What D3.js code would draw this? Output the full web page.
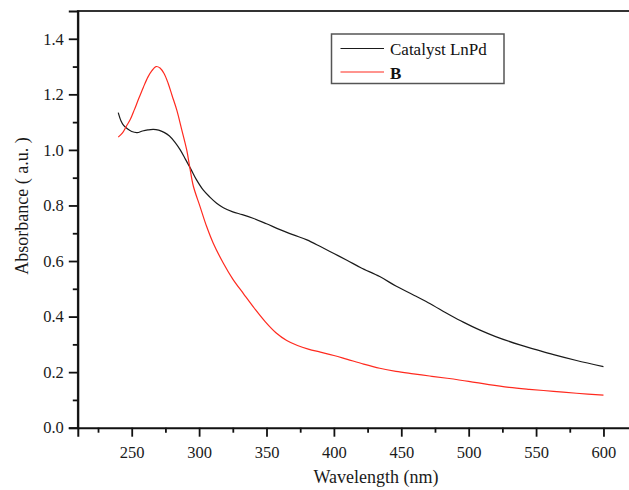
<!DOCTYPE html>
<html>
<head>
<meta charset="utf-8">
<script src="https://cdn.jsdelivr.net/npm/d3@7"></script>
<style>
  body { margin: 0; background: #fff; }
  svg { display: block; font-family: "Liberation Serif", "Times New Roman", serif; }
</style>
</head>
<body>
<div id="chart"></div>
<script>
// ---- data ----
const catalystWl = [240, 242, 244, 247, 250, 254, 258, 262, 266, 270, 274, 278, 282, 286, 290, 294, 298, 303, 308, 313, 318, 325, 332, 340, 350, 360, 370, 380, 390, 400, 410, 420, 434, 446, 459, 470, 486, 496, 508, 520, 538, 550, 563, 580, 600];
const catalystAbs = [1.134, 1.105, 1.088, 1.075, 1.066, 1.062, 1.068, 1.072, 1.074, 1.071, 1.063, 1.050, 1.028, 1.000, 0.965, 0.930, 0.893, 0.856, 0.830, 0.808, 0.792, 0.777, 0.767, 0.754, 0.734, 0.713, 0.694, 0.676, 0.652, 0.627, 0.602, 0.576, 0.544, 0.510, 0.478, 0.450, 0.406, 0.380, 0.352, 0.328, 0.298, 0.281, 0.263, 0.242, 0.220];

const bWl = [240, 243, 246, 249, 252, 255, 258.6, 262, 265, 268, 271, 274, 277, 280, 283.4, 287, 290.8, 293, 295.7, 300.7, 305.6, 310.5, 318, 325, 333, 341, 349, 357, 365, 373, 381, 390, 400, 410, 422, 434, 446, 459, 471, 484, 500, 515, 530, 545, 563, 580, 600];
const bAbs = [1.046, 1.060, 1.085, 1.110, 1.145, 1.182, 1.225, 1.262, 1.285, 1.300, 1.295, 1.275, 1.240, 1.195, 1.144, 1.075, 1.000, 0.940, 0.870, 0.796, 0.724, 0.664, 0.592, 0.535, 0.482, 0.430, 0.382, 0.342, 0.314, 0.296, 0.283, 0.272, 0.260, 0.246, 0.229, 0.214, 0.203, 0.194, 0.186, 0.178, 0.167, 0.155, 0.145, 0.138, 0.131, 0.124, 0.117];

const xMajor = [250, 300, 350, 400, 450, 500, 550, 600];
const xMinor = [225, 275, 325, 375, 425, 475, 525, 575];
const yMajor = [0.0, 0.2, 0.4, 0.6, 0.8, 1.0, 1.2, 1.4];
const yMinor = [0.1, 0.3, 0.5, 0.7, 0.9, 1.1, 1.3];

const series = [
  {name: "Catalyst LnPd", wl: catalystWl, abs: catalystAbs, color: "#1a1a1a", bold: false},
  {name: "B", wl: bWl, abs: bAbs, color: "#ff2a1f", bold: true}
];

// ---- layout ----
const width = 629, height = 490;
const svg = d3.select("#chart").append("svg")
  .attr("width", width).attr("height", height);

const x = d3.scaleLinear().domain([210, 630]).range([77.8, 643.9]);
const y = d3.scaleLinear().domain([0, 1.5]).range([427.7, 11]);

// frame (top + right run past the window edge)
svg.append("path")
  .attr("d", `M${x(210)},${y(0)}V${y(1.5)}H${x(630)}V${y(0)}`)
  .attr("fill", "none").attr("stroke", "#333").attr("stroke-width", 1.8);

// axes
const xAxis = svg.append("g")
  .attr("transform", `translate(0,${y(0)})`)
  .call(d3.axisBottom(x).tickValues(xMajor).tickFormat(d3.format("d")).tickSize(9).tickPadding(6));
svg.append("g")
  .attr("transform", `translate(0,${y(0)})`)
  .call(d3.axisBottom(x).tickValues(xMinor).tickFormat("").tickSize(5))
  .call(g => g.select(".domain").remove());

const yAxis = svg.append("g")
  .attr("transform", `translate(${x(210)},0)`)
  .call(d3.axisLeft(y).tickValues(yMajor).tickFormat(d3.format(".1f")).tickSize(9).tickPadding(5));
svg.append("g")
  .attr("transform", `translate(${x(210)},0)`)
  .call(d3.axisLeft(y).tickValues(yMinor).tickFormat("").tickSize(5))
  .call(g => g.select(".domain").remove());

svg.selectAll(".domain").attr("stroke", "#111").attr("stroke-width", 2);
svg.selectAll(".tick line").attr("stroke", "#111").attr("stroke-width", 1.8);
svg.selectAll(".tick text")
  .attr("fill", "#1a1a1a")
  .style("font-family", "'Liberation Serif', serif")
  .style("font-size", "16.5px");
xAxis.selectAll(".tick text").attr("dy", "0.95em");

// axis titles
svg.append("text")
  .attr("x", 376).attr("y", 483)
  .attr("text-anchor", "middle")
  .style("font-size", "18px").attr("fill", "#1a1a1a")
  .text("Wavelength (nm)");

svg.append("text")
  .attr("transform", "translate(28,206) rotate(-90)")
  .attr("text-anchor", "middle")
  .style("font-size", "18px").attr("fill", "#1a1a1a")
  .text("Absorbance ( a.u. )");

// curves
const line = d3.line()
  .x(d => x(d[0])).y(d => y(d[1]))
  .curve(d3.curveCatmullRom.alpha(0.5));

series.forEach(s => {
  svg.append("path")
    .datum(s.wl.map((w, i) => [w, s.abs[i]]))
    .attr("fill", "none")
    .attr("stroke", s.color)
    .attr("stroke-width", 1.2)
    .attr("d", line);
});

// legend
const lg = svg.append("g");
lg.append("rect")
  .attr("x", 331.5).attr("y", 34).attr("width", 172.5).attr("height", 49.5)
  .attr("fill", "#fff").attr("stroke", "#555").attr("stroke-width", 1.5);

series.forEach((s, i) => {
  const ly = 48.5 + i * 23.5;
  lg.append("line")
    .attr("x1", 340.5).attr("x2", 384).attr("y1", ly).attr("y2", ly)
    .attr("stroke", s.color).attr("stroke-width", 1.2);
  lg.append("text")
    .attr("x", 390).attr("y", ly + 6.5)
    .style("font-size", "17px")
    .style("font-weight", s.bold ? "bold" : "normal")
    .attr("fill", "#111")
    .text(s.name);
});
</script>
</body>
</html>
